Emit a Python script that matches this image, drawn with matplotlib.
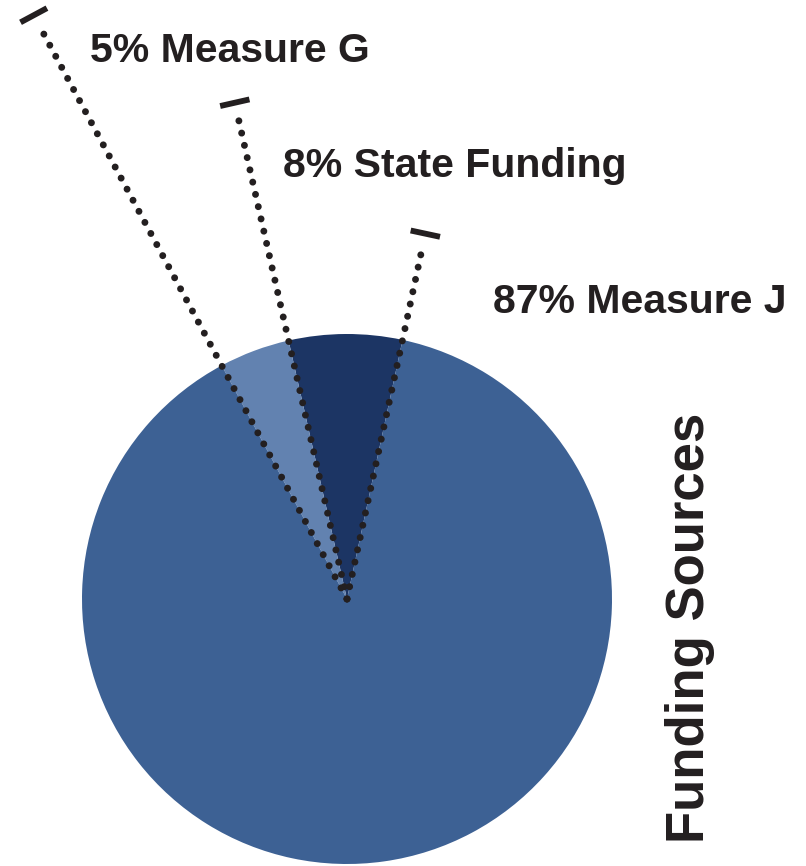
import matplotlib
matplotlib.use('Agg')
import matplotlib.pyplot as plt
import numpy as np

# ---- data ----
sources = ['State Funding', 'Measure G', 'Measure J']
label_pcts = [8, 5, 87]            # printed percentages
shares = [6.9, 4.3, 88.8]          # wedge sizes as drawn in the picture
colors = ['#1c3564', '#6282b0', '#3d6194']
title = 'Funding Sources'

# ---- style / layout ----
TXT = '#231f20'
FONT = 'Liberation Sans'
start_angle = 77.9
R_PX = 265.0

fig = plt.figure(figsize=(8.06, 8.66), dpi=100)
ax = fig.add_axes([0, 0, 1, 1])

wedges, _ = ax.pie(shares, colors=colors, startangle=start_angle,
                   counterclock=True, radius=1, center=(0, 0),
                   wedgeprops=dict(linewidth=0, antialiased=True))

# map pixel layout to data units (pie centre at px (347, 599), radius 265 px)
cx, cy = 347, 599
ax.set_xlim((0 - cx) / R_PX, (806 - cx) / R_PX)
ax.set_ylim((cy - 866) / R_PX, (cy - 0) / R_PX)
ax.set_aspect('auto')
ax.axis('off')

def px(x, y):
    return (x - cx) / R_PX, (cy - y) / R_PX

# leader lines along wedge boundaries
boundaries = [wedges[0].theta1, wedges[0].theta2, wedges[1].theta2]
lengths = [1.41, 1.92, 2.50]
cap_half = 15 / R_PX
gap = 12 / R_PX
for ang, L in zip(boundaries, lengths):
    t = np.deg2rad(ang)
    d = np.array([np.cos(t), np.sin(t)])
    n = np.array([-d[1], d[0]])
    end_dot = d * (L - gap)
    ax.plot([0, end_dot[0]], [0, end_dot[1]], color=TXT, lw=5.0,
            linestyle=(0, (0.01, 1.8)), dash_capstyle='round', zorder=5)
    cap_c = d * L
    p1 = cap_c + n * cap_half
    p2 = cap_c - n * cap_half
    ax.plot([p1[0], p2[0]], [p1[1], p2[1]], color=TXT, lw=4.2,
            solid_capstyle='butt', zorder=5)

# labels
label_pos = {'Measure G': (90, 62), 'State Funding': (283, 177), 'Measure J': (493, 313)}
for name, pct in zip(sources, label_pcts):
    x, y = px(*label_pos[name])
    ax.text(x, y, f'{pct}% {name}', ha='left', va='baseline', fontsize=29.5,
            fontweight='bold', family=FONT, color=TXT)

tx, ty = px(704, 843)
ax.text(tx, ty, title, rotation=90, rotation_mode='anchor', ha='left',
        va='baseline', fontsize=38, fontweight='bold', family=FONT, color=TXT)

fig.savefig('out.png', dpi=100, facecolor='white')
